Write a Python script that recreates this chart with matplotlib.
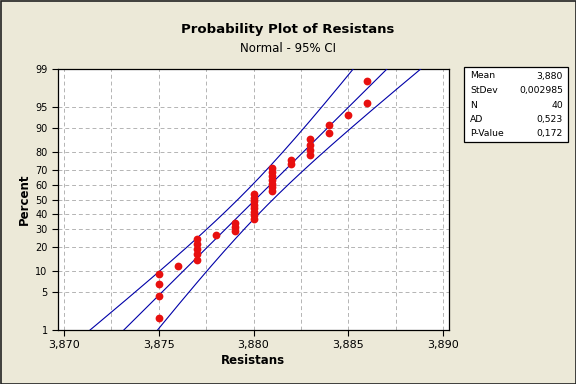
import matplotlib
matplotlib.use("Agg")
import matplotlib.pyplot as plt
import numpy as np
from statistics import NormalDist
from matplotlib.patches import Rectangle

# resistance values, with how many times each one occurs
values = [3.875, 3.876, 3.877, 3.878, 3.879, 3.880, 3.881, 3.882, 3.883, 3.884, 3.885, 3.886]
counts = [4, 1, 5, 1, 3, 8, 7, 2, 4, 2, 1, 2]

pct_ticks = [1, 5, 10, 20, 30, 40, 50, 60, 70, 80, 90, 95, 99]
x_ticks = [3.870, 3.875, 3.880, 3.885, 3.890]
stat_names = ["Mean", "StDev", "N", "AD", "P-Value"]
stat_values = ["3,880", "0,002985", "40", "0,523", "0,172"]

W, H = 576, 384
bg = "#ECE9D8"
nd = NormalDist()

data = np.sort(np.repeat(values, counts))
n = len(data)
mean = data.mean()
sd = data.std(ddof=1)
# median ranks (Minitab default)
ranks = (np.arange(1, n + 1) - 0.3) / (n + 0.4)
z = np.array([nd.inv_cdf(p) for p in ranks])

fig = plt.figure(figsize=(W / 100, H / 100), dpi=100, facecolor=bg)
ax = fig.add_axes([58 / W, (H - 330) / H, (449 - 58) / W, (330 - 69) / H])
ax.set_facecolor("white")

zlo, zhi = nd.inv_cdf(0.01), nd.inv_cdf(0.99)
zz = np.linspace(zlo - 0.5, zhi + 0.5, 200)
fit = mean + sd * zz
half = 1.96 * sd * np.sqrt(1 / n + zz ** 2 / (2 * n))
for line in (fit, fit - half, fit + half):
    ax.plot(line, zz, color="#0000A8", lw=0.8, zorder=3)

ax.plot(data, z, "o", color="#E8100F", markersize=5.6, markeredgewidth=0, zorder=4)

ax.set_xlim(3.86968, 3.89032)
ax.set_ylim(zlo, zhi)
ax.set_xticks(x_ticks)
ax.set_xticklabels([f"{t:.3f}".replace(".", ",") for t in x_ticks], fontsize=8)
ax.set_xticks([t + 0.0025 for t in x_ticks[:-1]], minor=True)
ax.set_yticks([nd.inv_cdf(p / 100) for p in pct_ticks])
ax.set_yticklabels([str(p) for p in pct_ticks], fontsize=7)
ax.tick_params(which="major", direction="out", length=4, width=0.8)
ax.tick_params(which="minor", length=0)
ax.grid(True, which="both", color="#B4B4B4", linestyle=(0, (4, 3)), linewidth=0.7)
ax.set_axisbelow(True)
for s in ax.spines.values():
    s.set_linewidth(0.9)

fig.text(288 / W, 1 - 30 / H, "Probability Plot of Resistans", ha="center", va="center",
         fontsize=9.5, fontweight="bold")
fig.text(288 / W, 1 - 48 / H, "Normal - 95% CI", ha="center", va="center", fontsize=8.5)
fig.text(24 / W, 1 - 199 / H, "Percent", ha="center", va="center", rotation=90,
         fontsize=8.5, fontweight="bold")
fig.text(253 / W, 1 - 360 / H, "Resistans", ha="center", va="center",
         fontsize=8.5, fontweight="bold")

# stats box
fig.patches.append(Rectangle((464 / W, 1 - 142 / H), (568 - 464) / W, (142 - 67) / H,
                             transform=fig.transFigure, facecolor="white",
                             edgecolor="black", linewidth=0.9))
for i, (nm, v) in enumerate(zip(stat_names, stat_values)):
    y = 1 - (76 + i * 14.5) / H
    fig.text(470 / W, y, nm, ha="left", va="center", fontsize=6.7)
    fig.text(563 / W, y, v, ha="right", va="center", fontsize=6.7)

# outer frame
fig.patches.append(Rectangle((0.5 / W, 0.5 / H), (W - 1) / W, (H - 1) / H,
                             transform=fig.transFigure, fill=False,
                             edgecolor="#222222", linewidth=1.2))

fig.savefig("out.png", dpi=100, facecolor=bg)
